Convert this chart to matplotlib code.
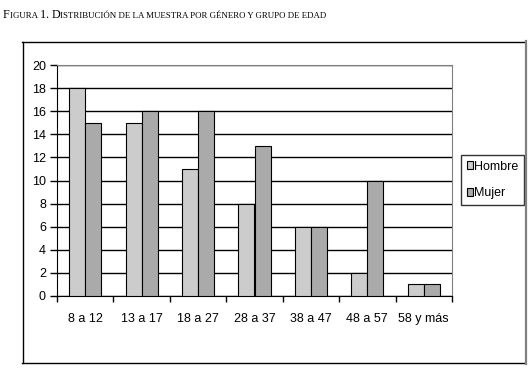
import matplotlib
matplotlib.use("Agg")
import matplotlib.pyplot as plt
import numpy as np
from matplotlib.lines import Line2D
from matplotlib.offsetbox import TextArea, HPacker, AnchoredOffsetbox

# datos
grupos = ["8 a 12", "13 a 17", "18 a 27", "28 a 37", "38 a 47", "48 a 57", "58 y más"]
hombre = [18, 15, 11, 8, 6, 2, 1]
mujer = [15, 16, 16, 13, 6, 10, 1]
yticks = list(range(0, 21, 2))

plt.rcParams['font.family'] = ['Liberation Sans', 'DejaVu Sans']

W, H = 532, 373
fig = plt.figure(figsize=(W / 100, H / 100), dpi=100)

# marco exterior
def fx(px): return px / W
def fy(py): return 1 - py / H
fig.add_artist(Line2D([fx(22), fx(525)], [fy(41.5), fy(41.5)], color='black', lw=1))
fig.add_artist(Line2D([fx(22.5), fx(22.5)], [fy(41.5), fy(362.5)], color='black', lw=1))
fig.add_artist(Line2D([fx(22), fx(525)], [fy(362.5), fy(362.5)], color='black', lw=1))
fig.add_artist(Line2D([fx(525.5), fx(525.5)], [fy(41), fy(363.5)], color='#808080', lw=1.6))

ax = fig.add_axes([fx(57), fy(296), fx(452) - fx(57), fy(65) - fy(296)])

x = np.arange(len(grupos))
w = 0.285
ax.bar(x - w / 2, hombre, w, color='#cccccc', edgecolor='black', linewidth=0.8, label='Hombre', zorder=3)
ax.bar(x + w / 2, mujer, w, color='#aaaaaa', edgecolor='black', linewidth=0.8, label='Mujer', zorder=3)

ax.set_xlim(-0.5, len(grupos) - 0.5)
ax.set_ylim(0, 20)
ax.set_yticks(yticks)
ax.set_xticks(np.arange(len(grupos) + 1) - 0.5)
ax.set_xticklabels([])
ax.set_xticks(x, minor=True)
ax.set_xticklabels(grupos, minor=True)
ax.tick_params(axis='x', which='major', direction='out', length=4, width=1)
ax.tick_params(axis='x', which='minor', length=0, pad=12, labelsize=9)
ax.tick_params(axis='y', direction='out', length=5, width=1, pad=3, labelsize=9)
ax.yaxis.grid(True, color='black', linewidth=1, zorder=0)
ax.set_axisbelow(True)
for s in ['top', 'right']:
    ax.spines[s].set_color('#808080')
ax.spines['left'].set_color('black')
ax.spines['bottom'].set_color('black')

leg = ax.legend(loc='upper left', bbox_to_anchor=(fx(461), fy(155)), bbox_transform=fig.transFigure,
                borderaxespad=0, frameon=True, fancybox=False, fontsize=9,
                handlelength=0.5, handleheight=0.6, handletextpad=0.1,
                labelspacing=1.15, borderpad=0.45)
leg.get_frame().set_edgecolor('black')
leg.get_frame().set_linewidth(1)
for p in leg.get_patches():
    p.set_linewidth(0.8)

# titulo en versalitas
big = dict(family='Liberation Serif', size=8.7, color='black')
small = dict(family='Liberation Serif', size=6.4, color='black')
piezas = [("F", big), ("IGURA ", small), ("1. ", big), ("D", big),
          ("ISTRIBUCIÓN DE LA MUESTRA POR GÉNERO Y GRUPO DE EDAD", small)]
areas = [TextArea(t, textprops=p) for t, p in piezas]
pack = HPacker(children=areas, align="baseline", pad=0, sep=0)
ab = AnchoredOffsetbox(loc='upper left', child=pack, pad=0, frameon=False,
                       bbox_to_anchor=(fx(3), fy(9)), bbox_transform=fig.transFigure, borderpad=0)
fig.add_artist(ab)

fig.savefig("out.png", dpi=100)
